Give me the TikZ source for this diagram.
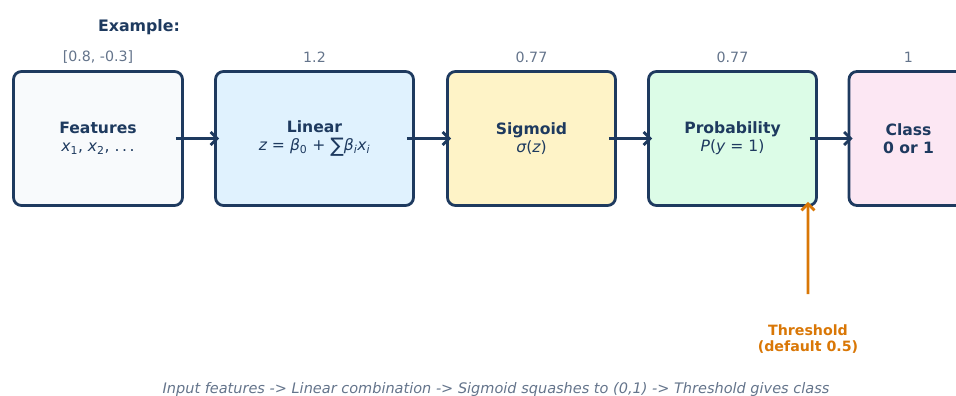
\documentclass[tikz,border=0pt]{standalone}
\usepackage{fontspec}
\setmainfont{DejaVu Sans}
\usetikzlibrary{arrows.meta}
\definecolor{navy}{HTML}{1E3A5F}
\definecolor{slate}{HTML}{64748B}
\definecolor{amber}{HTML}{D97706}
\definecolor{featfill}{HTML}{F8FAFC}
\definecolor{linfill}{HTML}{E0F2FE}
\definecolor{sigfill}{HTML}{FEF3C7}
\definecolor{probfill}{HTML}{DCFCE7}
\definecolor{classfill}{HTML}{FCE7F3}
\newcommand{\vv}[1]{{\itshape #1}}
\begin{document}
\begin{tikzpicture}[x=1pt,y=1pt,
    block/.style={
        draw=navy, line width=2.8pt,
        rounded corners=8pt,
        minimum height=134pt,
        text=navy, align=center,
        font=\fontsize{15.6}{18}\selectfont},
    value/.style={text=slate, font=\fontsize{14.2}{16}\selectfont},
    flow/.style={draw=navy, line width=2.8pt,
        -{Straight Barb[length=6.5pt,width=13pt]},
        shorten <=-8pt, shorten >=-5pt}]
        \useasboundingbox (0,0) rectangle (956,396);
        \node [text=navy, font=\fontsize{15.8}{18}\selectfont\bfseries] (ex) at (139,369) {Example:};
        \node [block, fill=featfill, minimum width=169pt] (feat) at (98,257.5) {\textbf{Features}\\\vv{x}\textsubscript{1}, \vv{x}\textsubscript{2}, .\,.\,.};
        \node [block, fill=linfill, minimum width=198pt] (lin) at (314.5,257.5) {\textbf{Linear}\\\vv{z} = \vv{β}\textsubscript{0} + \raisebox{-2pt}{\fontsize{20}{18}\selectfont ∑}\vv{β}\textsubscript{\vv{i}}\vv{x}\textsubscript{\vv{i}}};
        \node [block, fill=sigfill, minimum width=168pt] (sig) at (531.5,257.5) {\textbf{Sigmoid}\\\vv{σ}(\vv{z})};
        \node [block, fill=probfill, minimum width=168pt] (prob) at (732.5,257.5) {\textbf{Probability}\\\vv{P}(\vv{y} = 1)};
        \node [block, fill=classfill, minimum width=119pt] (cls) at (908.5,257.5) {\textbf{Class}\\\textbf{0 or 1}};
        % values of the running example
        \node [value] (vfeat) at (98,339) {[0.8, -0.3]};
        \node [value] (vlin) at (314.5,339) {1.2};
        \node [value] (vsig) at (531.5,339) {0.77};
        \node [value] (vprob) at (732.5,339) {0.77};
        \node [value] (vcls) at (908.5,339) {1};
        \draw [flow] (feat) -- (lin);
        \draw [flow] (lin) -- (sig);
        \draw [flow] (sig) -- (prob);
        \draw [flow] (prob) -- (cls);
        % threshold
        \node [text=amber, align=center, font=\fontsize{14.2}{16}\selectfont\bfseries] (thr) at (808,57) {Threshold\\(default 0.5)};
        \draw [draw=amber, line width=2.8pt, -{Straight Barb[length=6.5pt,width=13pt]}] ([yshift=27pt]thr.north) -- ([xshift=-10pt,yshift=5pt]prob.south east);
        \node [text=slate, font=\fontsize{14.5}{16}\selectfont\itshape] (caption) at (496,6) {Input features -> Linear combination -> Sigmoid squashes to (0,1) -> Threshold gives class};
\end{tikzpicture}
\end{document}
